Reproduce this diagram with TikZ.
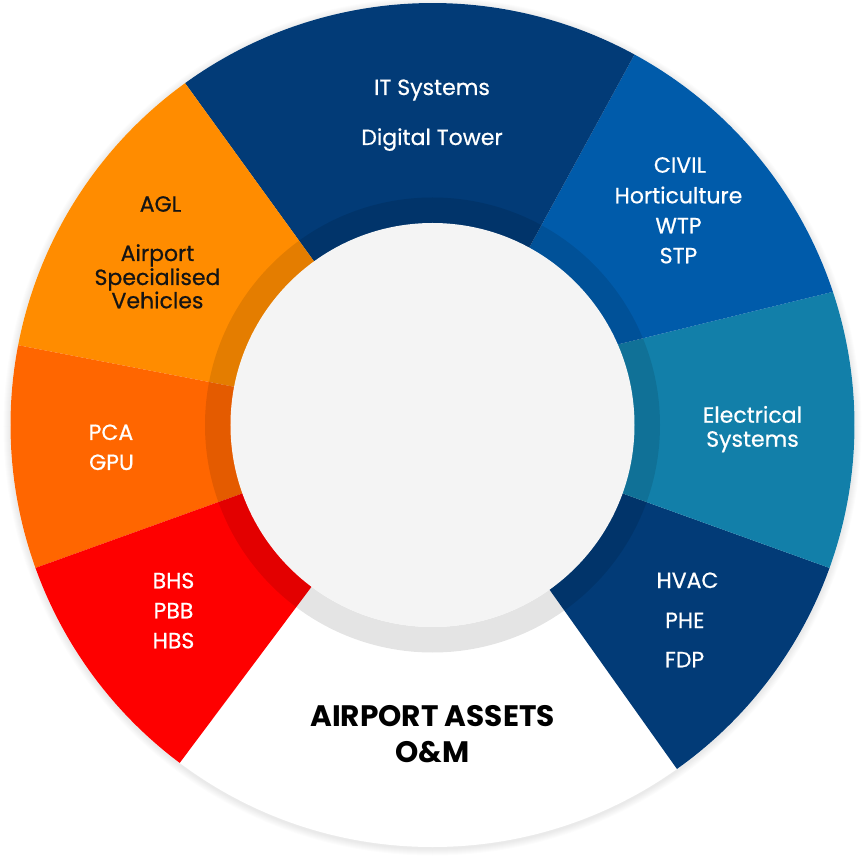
\documentclass[tikz,border=0pt]{standalone}
\usepackage{fontspec}
\setmainfont{Poppins}
\newfontfamily\medfont[FakeBold=0.6]{Poppins}
\definecolor{navy}{HTML}{023B77}
\definecolor{civil}{HTML}{005BAA}
\definecolor{elec}{HTML}{127FA9}
\definecolor{agl}{HTML}{FF8C00}
\definecolor{pca}{HTML}{FF6600}
\definecolor{bhs}{HTML}{FE0000}
\definecolor{hub}{HTML}{F4F4F4}
\tikzset{
  lbl/.style={inner sep=0pt, anchor=base, text=white, font=\medfont\fontsize{22}{24}\selectfont},
  dlbl/.style={lbl, text=black!92},
  ttl/.style={inner sep=0pt, anchor=base, text=black, font=\fontsize{29.6}{32}\selectfont\bfseries},
}
\begin{document}
\begin{tikzpicture}[x=1pt,y=1pt]
\useasboundingbox (-432.5,-442) rectangle (431.5,425);
% soft shadow
\foreach \i in {1,...,7}{
  \fill[black, opacity=0.010] (0,-1.5) circle[radius=422pt+\i pt];
}
% white base
\fill[white] (0,0) circle[radius=422pt];
% segments
\fill[navy]  (0,0) -- (-54.6:422pt) arc[start angle=-54.6, end angle=-19.8, radius=422pt] -- cycle;
\fill[elec]  (0,0) -- (-19.8:422pt) arc[start angle=-19.8, end angle=18.4, radius=422pt] -- (23.5:202pt) -- cycle;
\fill[civil] (0,0) -- (23.5:202pt) -- (18.4:422pt) arc[start angle=18.4, end angle=61.4, radius=422pt] -- cycle;
\fill[navy]  (0,0) -- (61.4:422pt) arc[start angle=61.4, end angle=125.9, radius=422pt] -- cycle;
\fill[agl]   (0,0) -- (125.9:422pt) arc[start angle=125.9, end angle=169.1, radius=422pt] -- cycle;
\fill[pca]   (0,0) -- (169.1:422pt) arc[start angle=169.1, end angle=199.8, radius=422pt] -- cycle;
\fill[bhs]   (0,0) -- (199.8:422pt) arc[start angle=199.8, end angle=233.2, radius=422pt] -- cycle;
% darker band
\fill[black, opacity=0.105, even odd rule] (0,0) circle[radius=227.5pt] (0,0) circle[radius=202pt];
% hub
\fill[hub] (0,0) circle[radius=202pt];
% labels
\node[lbl] (it1) at (-0.5,330) {IT Systems};
\node[lbl] (it2) at (-0.5,280) {Digital Tower};
\node[dlbl] (agl1) at (-272,213.3) {AGL};
\node[dlbl] (agl2) at (-275,164) {Airport};
\node[dlbl] (agl3) at (-275,140) {Specialised};
\node[dlbl] (agl4) at (-275,116.7) {Vehicles};
\node[lbl] (cv1) at (247.5,252.3) {CIVIL};
\node[lbl] (cv2) at (246,221.7) {Horticulture};
\node[lbl] (cv3) at (246,191.7) {WTP};
\node[lbl] (cv4) at (246,161.7) {STP};
\node[lbl] (el1) at (320,2.3) {Electrical};
\node[lbl] (el2) at (320,-21.7) {Systems};
\node[lbl] (hv1) at (255,-163) {HVAC};
\node[lbl] (hv2) at (252.3,-203) {PHE};
\node[lbl] (hv3) at (252,-242.3) {FDP};
\node[lbl] (pc1) at (-321.5,-15) {PCA};
\node[lbl] (pc2) at (-321,-45) {GPU};
\node[lbl] (bh1) at (-259,-163.3) {BHS};
\node[lbl] (bh2) at (-259,-193.3) {PBB};
\node[lbl] (bh3) at (-259,-223.3) {HBS};
\node[ttl] (t1) at (0,-301) {AIRPORT ASSETS};
\node[ttl] (t2) at (0,-337.7) {O\&M};
\end{tikzpicture}
\end{document}
